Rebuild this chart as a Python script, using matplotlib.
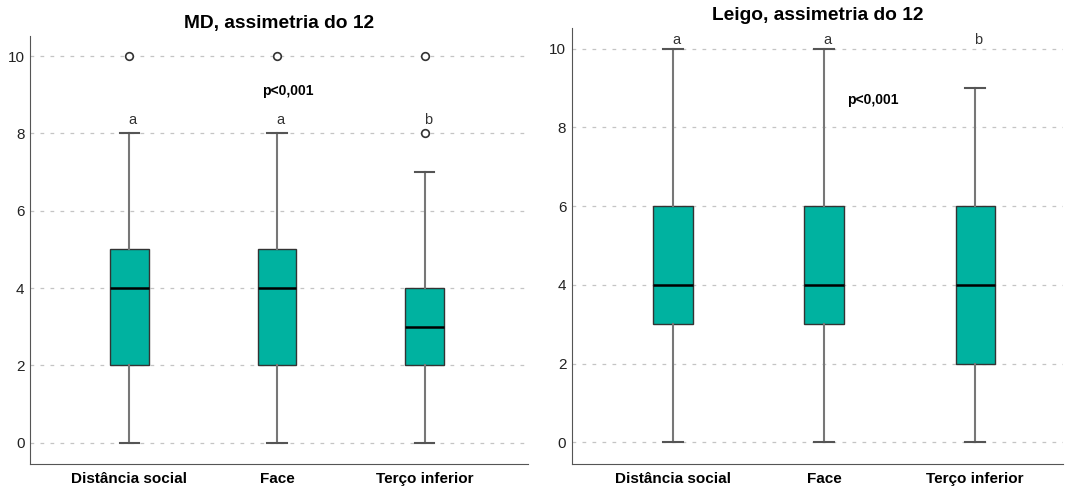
import matplotlib.pyplot as plt

plt.rcParams['font.family'] = ['Liberation Sans', 'DejaVu Sans']

categorias = ["Distância social", "Face", "Terço inferior"]

# MD: mínimo, Q1, mediana, Q3, máximo e outliers
md_min = [0, 0, 0]
md_q1 = [2, 2, 2]
md_med = [4, 4, 3]
md_q3 = [5, 5, 4]
md_max = [8, 8, 7]
md_out = [[10], [10], [8, 10]]
md_letras = ["a", "a", "b"]

# Leigo
lg_min = [0, 0, 0]
lg_q1 = [3, 3, 2]
lg_med = [4, 4, 4]
lg_q3 = [6, 6, 6]
lg_max = [10, 10, 9]
lg_out = [[], [], []]
lg_letras = ["a", "a", "b"]

TEAL = '#00B2A0'


def stats(mn, q1, med, q3, mx, out):
    return [dict(whislo=a, q1=b, med=c, q3=d, whishi=e, fliers=f, label=lab)
            for a, b, c, d, e, f, lab in zip(mn, q1, med, q3, mx, out, categorias)]


def painel(ax, st, titulo, letras, y_letra, p_xy, xlim):
    ax.bxp(st, positions=[1, 2, 3], widths=0.26, patch_artist=True,
           boxprops=dict(facecolor=TEAL, edgecolor='#333333', linewidth=1),
           medianprops=dict(color='black', linewidth=1.8),
           whiskerprops=dict(color='#777777', linewidth=1.5),
           capprops=dict(color='#555555', linewidth=1.5),
           capwidths=0.13,
           flierprops=dict(marker='o', markersize=5.5, markerfacecolor='white',
                           markeredgecolor='#333333', markeredgewidth=1.2))
    ax.set_xlim(*xlim)
    ax.set_ylim(-0.55, 10.52)
    ax.set_yticks([0, 2, 4, 6, 8, 10])
    ax.yaxis.grid(True, linestyle=(0, (3, 5)), color='#c4c4c4', linewidth=0.9)
    ax.set_axisbelow(True)
    ax.tick_params(axis='both', length=0)
    ax.tick_params(axis='y', labelsize=11, labelcolor='#222222', pad=4)
    ax.set_xticks([1, 2, 3])
    ax.set_xticklabels(categorias, fontsize=11, fontweight='bold', color='black')
    ax.tick_params(axis='x', pad=6)
    for s in ['top', 'right']:
        ax.spines[s].set_visible(False)
    for s in ['left', 'bottom']:
        ax.spines[s].set_color('#555555')
    ax.set_title(titulo, fontsize=13.8, fontweight='bold', pad=6)
    for i, l in enumerate(letras):
        ax.text(i + 1.02, y_letra, l, ha='center', va='center', fontsize=10.5, color='#333333')
    ax.text(p_xy[0], p_xy[1], "p<0,001", ha='center', va='center', fontsize=10, fontweight='bold')


fig = plt.figure(figsize=(10.65, 4.88), dpi=100)
ax1 = fig.add_axes([0.0282, 0.0492, 0.4676, 0.877])
ax2 = fig.add_axes([0.537, 0.0492, 0.461, 0.893])

painel(ax1, stats(md_min, md_q1, md_med, md_q3, md_max, md_out),
       "MD, assimetria do 12", md_letras, 8.35, (2.07, 9.1), (0.327, 3.70))
painel(ax2, stats(lg_min, lg_q1, lg_med, lg_q3, lg_max, lg_out),
       "Leigo, assimetria do 12", lg_letras, 10.22, (2.32, 8.7), (0.331, 3.58))

fig.savefig('out.png', dpi=100)
